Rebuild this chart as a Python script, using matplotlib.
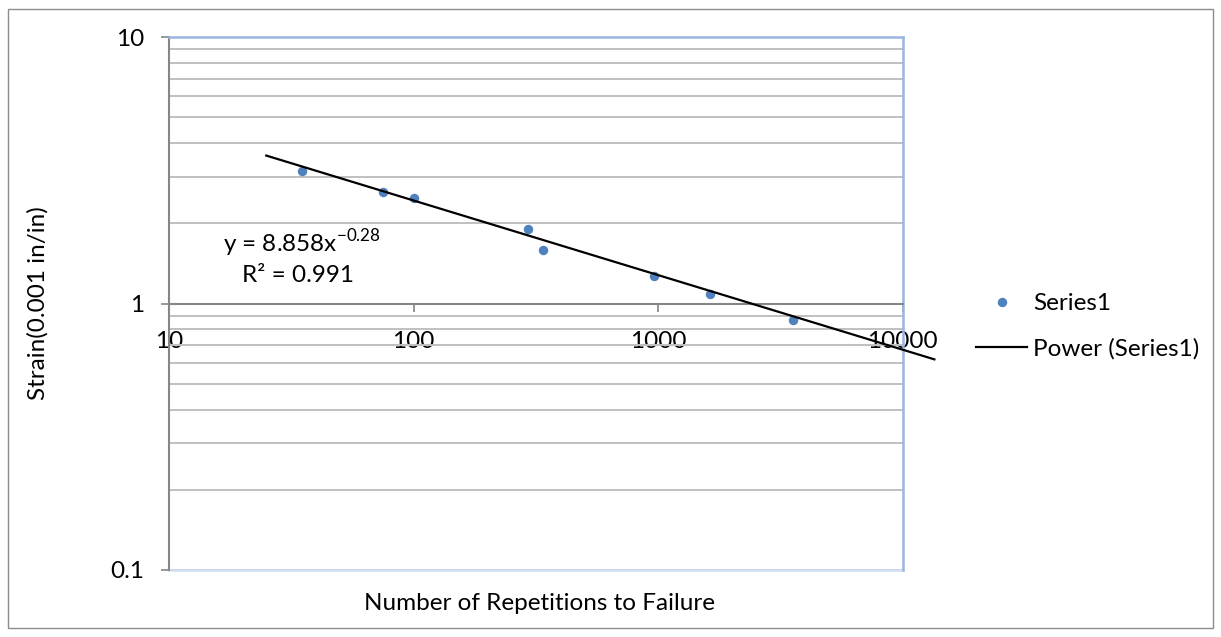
import matplotlib.pyplot as plt
import numpy as np
from matplotlib.patches import Rectangle
from matplotlib.ticker import NullLocator, NullFormatter, LogLocator

plt.rcParams['font.family'] = ['Lato', 'DejaVu Sans']
plt.rcParams['mathtext.fontset'] = 'custom'
plt.rcParams['mathtext.rm'] = 'Lato'

# fatigue test results
repetitions = [35, 75, 100, 295, 340, 965, 1630, 3575]
strain = [3.16, 2.62, 2.49, 1.91, 1.595, 1.266, 1.09, 0.871]

# power trendline  y = a * x^b
coef_a = 8.858
coef_b = -0.28
r_squared = 0.991
trend_start = 25
trend_end = 13500

x_ticks = [10, 100, 1000, 10000]
x_tick_labels = ['10', '100', '1000', '10000']
y_ticks = [0.1, 1, 10]
y_tick_labels = ['0.1', '1', '10']

fs = 17.5
W, H = 1221, 637
fig = plt.figure(figsize=(W / 100, H / 100), dpi=100)
ax = fig.add_axes([169 / W, 1 - 570 / H, (902.5 - 169) / W, (570 - 37.3) / H])

ax.set_xscale('log')
ax.set_yscale('log')
ax.set_xlim(10, 10000)
ax.set_ylim(0.1, 10)

grey = '#868686'
blue_border = '#9DB5E2'

# horizontal gridlines on every major and minor decade step
ax.yaxis.set_minor_locator(LogLocator(base=10, subs=np.arange(2, 10)))
ax.yaxis.set_minor_formatter(NullFormatter())
ax.xaxis.set_minor_locator(NullLocator())
ax.yaxis.grid(True, which='both', color='#C0C0C0', lw=1.4)
ax.set_axisbelow(True)

ax.set_xticks(x_ticks, labels=x_tick_labels)
ax.set_yticks(y_ticks, labels=y_tick_labels)
ax.tick_params(axis='y', which='minor', length=0)
ax.tick_params(axis='y', which='major', direction='out', length=6, width=1.2,
               color=grey, labelsize=fs, pad=12)
ax.tick_params(axis='x', which='major', direction='out', length=6, width=1.2,
               color=grey, labelsize=fs, pad=14)

# horizontal axis crosses at y = 1
ax.spines['bottom'].set_position(('data', 1))
ax.spines['bottom'].set_color(grey)
ax.spines['bottom'].set_linewidth(1.5)
ax.spines['left'].set_color(grey)
ax.spines['left'].set_linewidth(1.5)
for side in ['top', 'right']:
    ax.spines[side].set_color(blue_border)
    ax.spines[side].set_linewidth(1.8)
ax.axhline(0.1, color='#D2DEF2', lw=1.8, clip_on=False, zorder=1)

# data points and trendline
ax.plot(repetitions, strain, 'o', color='#4F81BD', ms=6.8, mec='none',
        label='Series1', zorder=3)
trend_x = np.array([trend_start, trend_end])
trend_y = coef_a * trend_x ** coef_b
ax.plot(trend_x, trend_y, color='black', lw=1.6, clip_on=False,
        label='Power (Series1)', zorder=4)

fig.text(222.7 / W, 1 - 251.7 / H, r'y = 8.858x$^{\mathrm{-0.28}}$',
         fontsize=fs, va='baseline', ha='left')
fig.text(241.7 / W, 1 - 281.7 / H, 'R² = %.3f' % r_squared,
         fontsize=fs, va='baseline', ha='left')

fig.text(540 / W, 1 - 604 / H, 'Number of Repetitions to Failure',
         fontsize=fs, ha='center', va='center')
fig.text(38 / W, 1 - 303 / H, 'Strain(0.001 in/in)', fontsize=fs,
         rotation=90, ha='center', va='center')

fig.legend(loc='upper left', bbox_to_anchor=(976 / W, 1 - 293 / H),
           frameon=False, fontsize=fs, handlelength=2.1, handletextpad=0.25,
           labelspacing=1.0, borderpad=0, borderaxespad=0)

# chart area outline
fig.patches.append(Rectangle((8 / W, 9 / H), (1213 - 8) / W, (628 - 9) / H,
                             transform=fig.transFigure, fill=False,
                             edgecolor='#8C8C8C', lw=1.0))

fig.savefig('out.png', dpi=100)
